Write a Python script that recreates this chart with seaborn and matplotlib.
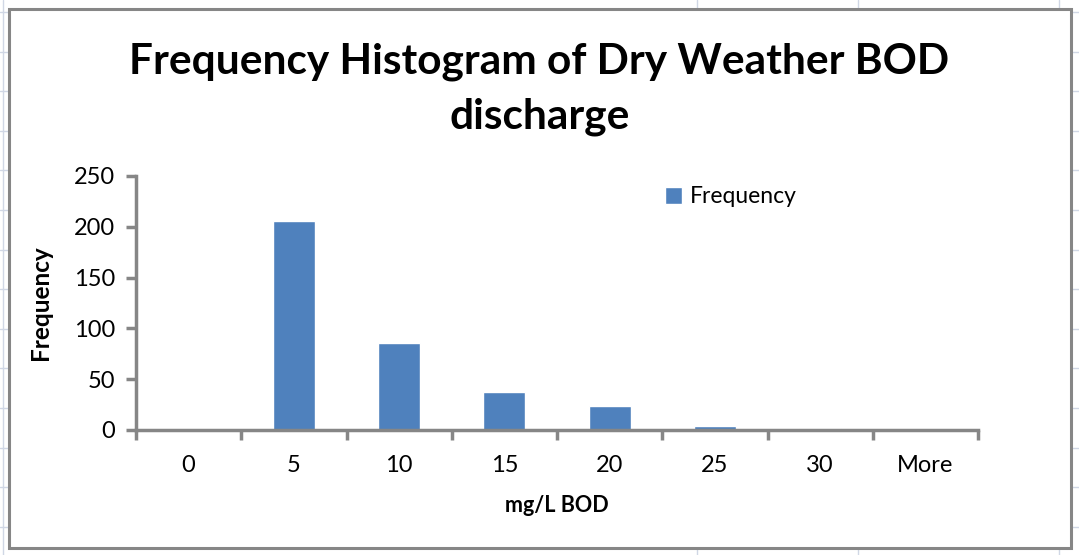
"""
Excel style frequency histogram of dry weather BOD discharge.
"""
import matplotlib
matplotlib.use("Agg")
import matplotlib.pyplot as plt
from matplotlib.lines import Line2D
from matplotlib.patches import Rectangle
import seaborn as sns
import pandas as pd
import numpy as np

# data
bins = ["0", "5", "10", "15", "20", "25", "30", "More"]
frequency = [0, 206, 86, 37, 24, 4, 2, 0]

BAR_BLUE = "#4F81BD"
SPINE_GRAY = "#868686"
SHEET_GRID = "#D0D7E5"

sns.set_theme(style="white", rc={"xtick.bottom": True, "ytick.left": True,
                                 "text.color": "black", "axes.labelcolor": "black",
                                 "xtick.color": SPINE_GRAY, "ytick.color": SPINE_GRAY,
                                 "xtick.labelcolor": "black", "ytick.labelcolor": "black"})
plt.rcParams["font.family"] = ["Lato", "DejaVu Sans"]

W, H = 1079, 555
fig = plt.figure(figsize=(W / 100, H / 100), dpi=100)

# spreadsheet cells behind the chart
for yy in np.arange(12, H, 39.6):
    fig.add_artist(Line2D([0, 1], [1 - yy / H, 1 - yy / H], color=SHEET_GRID, lw=1, zorder=0))
for xx in [3, 697, 858, 1059]:
    fig.add_artist(Line2D([xx / W, xx / W], [0, 1], color=SHEET_GRID, lw=1, zorder=0))

# chart area with gray border
fig.add_artist(Rectangle((9 / W, 1 - 548 / H), (1071 - 9) / W, (548 - 9) / H,
                         facecolor="white", edgecolor=SPINE_GRAY, lw=2.2, zorder=1))

ax = fig.add_axes([136 / W, 1 - 430 / H, (978 - 136) / W, (430 - 176) / H], zorder=2)
ax.patch.set_alpha(0)

df = pd.DataFrame({"bin": bins, "Frequency": frequency})
sns.barplot(data=df, x="bin", y="Frequency", color=BAR_BLUE, width=0.4,
            saturation=1, label="Frequency", ax=ax)

ax.set_xlim(-0.5, len(bins) - 0.5)
ax.set_ylim(0, 250)
ax.set_yticks(range(0, 251, 50))

# spines: only left and bottom, thick gray
sns.despine(ax=ax)
for side in ["left", "bottom"]:
    ax.spines[side].set_color(SPINE_GRAY)
    ax.spines[side].set_linewidth(2.5)

# category labels centred, tick marks on the boundaries
ax.set_xticks(range(len(bins)))
ax.set_xticklabels(bins)
ax.set_xticks(np.arange(-0.5, len(bins), 1), minor=True)
ax.tick_params(axis="x", which="major", bottom=True, length=0, pad=18, labelsize=17)
ax.tick_params(axis="x", which="minor", bottom=True, length=7, width=2.5,
               color=SPINE_GRAY, direction="out")
ax.tick_params(axis="y", which="major", left=True, length=7, width=2.5, color=SPINE_GRAY,
               direction="out", labelsize=17, pad=8)

ax.set_xlabel("mg/L BOD", fontsize=15.5, fontweight="bold", labelpad=14)
ax.set_ylabel("Frequency", fontsize=17.5, fontweight="bold", labelpad=16)

fig.text(0.5, 1 - 62 / H, "Frequency Histogram of Dry Weather BOD", ha="center",
         va="center", fontsize=30.5, fontweight="bold", color="black", zorder=3)
fig.text(0.5, 1 - 117 / H, "discharge", ha="center", va="center",
         fontsize=30.5, fontweight="bold", color="black", zorder=3)

ax.legend(loc="upper left", bbox_to_anchor=(508 / (978 - 136), 1.04), frameon=False,
          fontsize=16.5, handlelength=0.75, handleheight=0.75, handletextpad=0.35)

fig.savefig("out.png", dpi=100)
